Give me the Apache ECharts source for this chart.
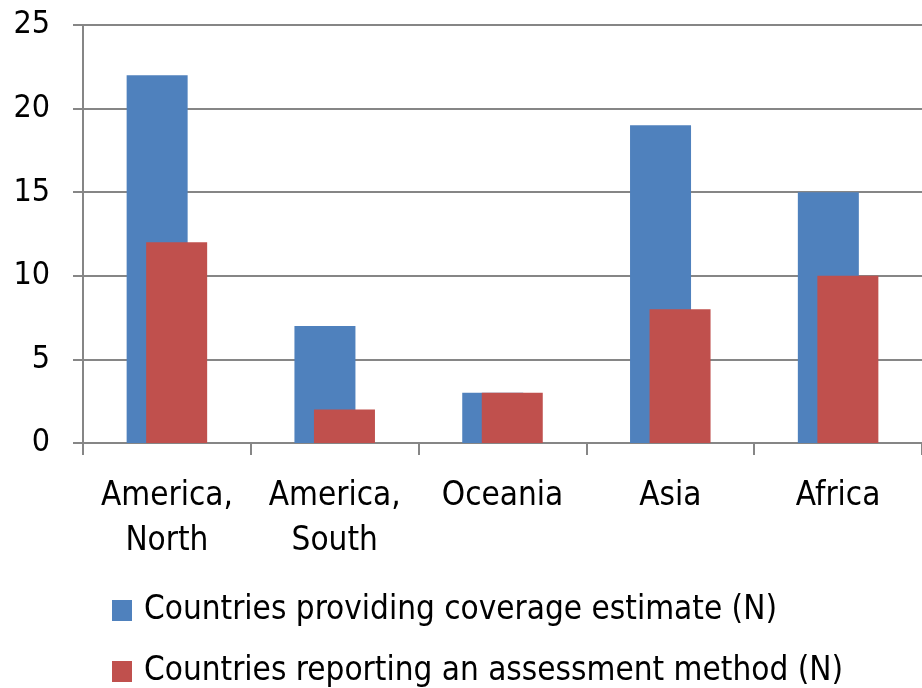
<!DOCTYPE html>
<html><head><meta charset="utf-8">
<script src="https://cdn.jsdelivr.net/npm/echarts@6/dist/echarts.min.js"></script>
<style>html,body{margin:0;padding:0;background:#fff}#c{width:922px;height:688px}</style>
</head><body><div id="c"></div>
<script>
const categories = ['America,\nNorth', 'America,\nSouth', 'Oceania', 'Asia', 'Africa'];
const coverage = [22, 7, 3, 19, 15];
const assessment = [12, 2, 3, 8, 10];
const seriesNames = ['Countries providing coverage estimate (N)', 'Countries reporting an assessment method (N)'];
const FONT = "'DejaVu Sans Condensed','Liberation Sans',sans-serif";
const legendText = {fontFamily: FONT, fontSize: 33, lineHeight: 33, color: '#000', padding: [0,0,0,7]};
const chart = echarts.init(document.getElementById('c'));
chart.setOption({
  animation: false,
  textStyle: {fontFamily: FONT},
  grid: {left: 83, right: 0, top: 25, bottom: 245, containLabel: false},
  legend: [
    {orient: 'horizontal', left: 107, top: 589, itemWidth: 20, itemHeight: 21, icon: 'rect',
     textStyle: legendText, data: [seriesNames[0]]},
    {orient: 'horizontal', left: 107, top: 650, itemWidth: 20, itemHeight: 21, icon: 'rect',
     textStyle: legendText, data: [seriesNames[1]]}
  ],
  xAxis: {
    type: 'category', data: categories,
    axisLine: {lineStyle: {color: '#868686', width: 2}},
    axisTick: {show: true, interval: 0, length: 12, lineStyle: {color: '#868686', width: 2}},
    axisLabel: {interval: 0, fontFamily: FONT, fontSize: 33, color: '#000', margin: 31, lineHeight: 45}
  },
  yAxis: {
    type: 'value', min: 0, max: 25, interval: 5,
    axisLine: {show: true, lineStyle: {color: '#868686', width: 2}},
    axisTick: {show: true, length: 10, lineStyle: {color: '#868686', width: 2}},
    splitLine: {lineStyle: {color: '#868686', width: 2}},
    axisLabel: {fontFamily: FONT, fontSize: 32, color: '#000', margin: 33}
  },
  series: [
    {name: seriesNames[0], type: 'bar', data: coverage, barWidth: 61, barGap: '-68%', itemStyle: {color: '#4F81BD'}},
    {name: seriesNames[1], type: 'bar', data: assessment, barWidth: 61, itemStyle: {color: '#C0504D'}}
  ]
});
</script></body></html>
